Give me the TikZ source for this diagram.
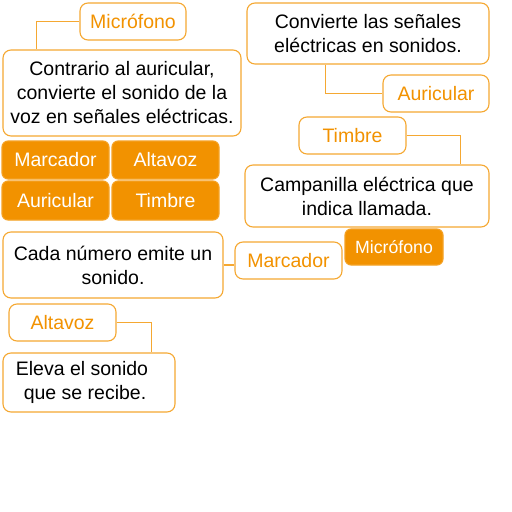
\documentclass[tikz,border=0pt]{standalone}
\usepackage{fontspec}
\setmainfont{Liberation Sans}
\definecolor{org}{RGB}{242,146,0}
\definecolor{orgline}{RGB}{245,168,50}
\begin{document}
\begin{tikzpicture}[x=1pt,y=-1pt,
  base/.style={rectangle,rounded corners=8pt,inner sep=0pt,align=center,
    font=\fontsize{19.5}{24}\selectfont,line width=1.1pt},
  descbox/.style={base,draw=orgline,fill=white,text=black},
  labelbox/.style={base,draw=orgline,fill=white,text=org},
  btn/.style={base,draw=org!85!white,fill=org,text=white,rounded corners=6pt},
  conn/.style={draw=orgline,line width=1.1pt}]
\useasboundingbox (0,0) rectangle (512,512);
\node[labelbox,minimum width=106pt,minimum height=37pt] (mic1) at (133,21.5) {Micrófono};
\node[descbox,minimum width=238pt,minimum height=86pt] (box1) at (122,93) {Contrario al auricular,\\convierte el sonido de la\\voz en señales eléctricas.};
\node[descbox,minimum width=242pt,minimum height=61pt] (box2) at (368,33.5) {Convierte las señales\\eléctricas en sonidos.};
\node[labelbox,minimum width=106pt,minimum height=37pt] (aur) at (436,93.5) {Auricular};
\node[labelbox,minimum width=107pt,minimum height=37pt] (tim) at (352.5,135.5) {Timbre};
\node[descbox,minimum width=244pt,minimum height=62pt] (box3) at (367,196) {Campanilla eléctrica que\\indica llamada.};
\node[btn,minimum width=98pt,minimum height=36pt,font=\fontsize{17.7}{21}\selectfont] (mic2) at (394,247) {Micrófono};
\node[labelbox,minimum width=107pt,minimum height=37pt] (marc) at (288.5,260.5) {Marcador};
\node[btn,minimum width=107pt,minimum height=38pt] (b1) at (55.5,160) {Marcador};
\node[btn,minimum width=107pt,minimum height=38pt] (b2) at (165.5,160) {Altavoz};
\node[btn,minimum width=107pt,minimum height=39pt] (b3) at (55.5,200.5) {Auricular};
\node[btn,minimum width=107pt,minimum height=39pt] (b4) at (165.5,200.5) {Timbre};
\node[descbox,minimum width=220pt,minimum height=66pt] (box4) at (113,265) {Cada número emite un\\sonido.};
\node[labelbox,minimum width=107pt,minimum height=37pt] (alt) at (62.5,322.5) {Altavoz};
\node[descbox,minimum width=172pt,minimum height=59pt] (box5) at (89,382.5) {Eleva el sonido\kern14pt\\que se recibe.\kern8pt};
% connectors
\coordinate (c1) at ([xshift=34pt]box1.north west);
\draw[conn] (mic1.west) -| (c1);
\coordinate (c2) at ([xshift=79pt]box2.south west);
\draw[conn] (c2) |- (aur.west);
\coordinate (c3) at ([xshift=216pt]box3.north west);
\draw[conn] (tim.east) -| (c3);
\draw[conn] (box4.east) -- (box4.east -| marc.west);
\coordinate (c5) at ([xshift=149pt]box5.north west);
\draw[conn] (alt.east) -| (c5);
\end{tikzpicture}
\end{document}
